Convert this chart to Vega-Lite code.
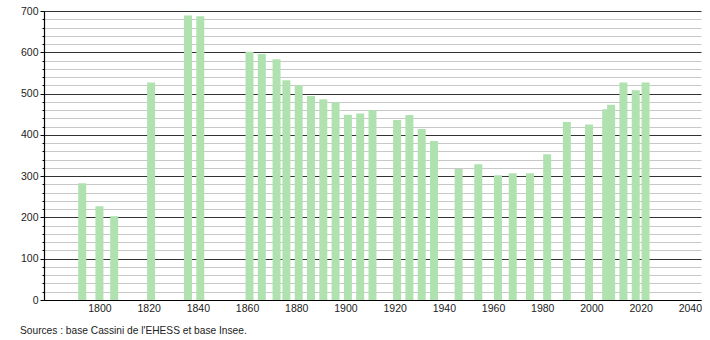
{
  "$schema": "https://vega.github.io/schema/vega-lite/v6.json",
  "autosize": "none",
  "width": 657,
  "height": 289,
  "padding": {"left": 44, "top": 11, "right": 9, "bottom": 40},
  "background": "white",
  "data": {"values": [
    {"annee": 1793, "population": 283},
    {"annee": 1800, "population": 227},
    {"annee": 1806, "population": 203},
    {"annee": 1821, "population": 527},
    {"annee": 1836, "population": 689},
    {"annee": 1841, "population": 687},
    {"annee": 1861, "population": 601},
    {"annee": 1866, "population": 596},
    {"annee": 1872, "population": 583},
    {"annee": 1876, "population": 532},
    {"annee": 1881, "population": 520},
    {"annee": 1886, "population": 494},
    {"annee": 1891, "population": 486},
    {"annee": 1896, "population": 479},
    {"annee": 1901, "population": 449},
    {"annee": 1906, "population": 452},
    {"annee": 1911, "population": 460},
    {"annee": 1921, "population": 436},
    {"annee": 1926, "population": 448},
    {"annee": 1931, "population": 414},
    {"annee": 1936, "population": 385},
    {"annee": 1946, "population": 317},
    {"annee": 1954, "population": 329},
    {"annee": 1962, "population": 302},
    {"annee": 1968, "population": 307},
    {"annee": 1975, "population": 307},
    {"annee": 1982, "population": 353},
    {"annee": 1990, "population": 431},
    {"annee": 1999, "population": 425},
    {"annee": 2006, "population": 462},
    {"annee": 2008, "population": 473},
    {"annee": 2013, "population": 527},
    {"annee": 2018, "population": 508},
    {"annee": 2022, "population": 527}
  ]},
  "title": {
    "text": "Sources : base Cassini de l'EHESS et base Insee.",
    "orient": "bottom",
    "anchor": "start",
    "frame": "group",
    "dx": -24,
    "offset": 12,
    "font": "Liberation Sans",
    "fontSize": 10.2,
    "fontWeight": "normal",
    "color": "#222"
  },
  "mark": {"type": "bar", "size": 8, "color": "#b0e2b0"},
  "encoding": {
    "x": {
      "field": "annee",
      "type": "quantitative",
      "scale": {"domain": [1779.5, 2042.5], "nice": false, "zero": false},
      "axis": {
        "title": null,
        "values": [1800, 1820, 1840, 1860, 1880, 1900, 1920, 1940, 1960, 1980, 2000, 2020, 2040],
        "format": "d",
        "grid": false,
        "ticks": false,
        "labelPadding": 3,
        "domainColor": "#000",
        "domainWidth": 1.2,
        "labelFont": "Liberation Sans",
        "labelFontSize": 10.5,
        "labelColor": "#222"
      }
    },
    "y": {
      "field": "population",
      "type": "quantitative",
      "scale": {"domain": [0, 700], "nice": false},
      "axis": {
        "title": null,
        "values": [0, 20, 40, 60, 80, 100, 120, 140, 160, 180, 200, 220, 240, 260, 280, 300, 320, 340, 360, 380, 400, 420, 440, 460, 480, 500, 520, 540, 560, 580, 600, 620, 640, 660, 680, 700],
        "labelExpr": "datum.value % 100 === 0 ? datum.label : ''",
        "grid": true,
        "gridColor": {"condition": {"test": "datum.value % 100 === 0", "value": "#333333"}, "value": "#c8c8c8"},
        "gridWidth": 1,
        "tickSize": {"condition": {"test": "datum.value % 100 === 0", "value": 4}, "value": 2},
        "tickColor": "#000",
        "domainColor": "#000",
        "domainWidth": 1.2,
        "labelPadding": 2,
        "labelFont": "Liberation Sans",
        "labelFontSize": 10.5,
        "labelColor": "#222"
      }
    }
  },
  "config": {"view": {"stroke": null}}
}
